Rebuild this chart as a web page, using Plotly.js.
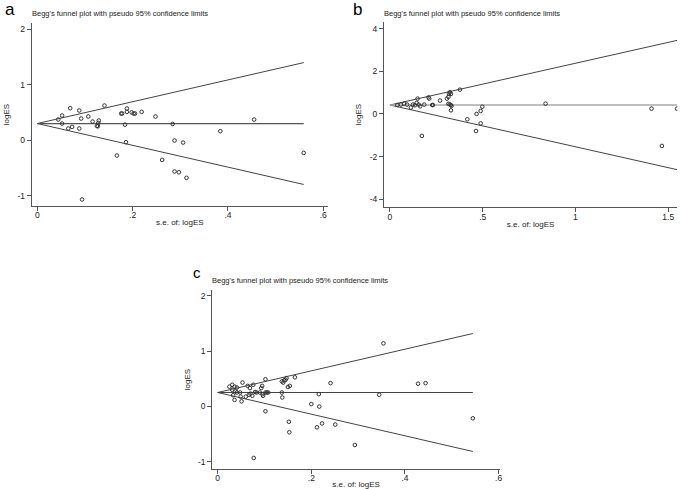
<!DOCTYPE html>
<html>
<head>
<meta charset="utf-8">
<script src="https://cdn.plot.ly/plotly-3.0.1.min.js"></script>
<style>html,body{margin:0;padding:0;background:#fff;}#chart{width:685px;height:489px;}</style>
</head>
<body>
<div id="chart"></div>
<script>
// Panel a
const seA = [0.044,0.052,0.052,0.069,0.065,0.073,0.088,0.092,0.088,0.094,0.107,0.116,0.125,0.129,0.128,0.127,0.141,0.176,0.178,0.188,0.188,0.184,0.186,0.167,0.198,0.202,0.205,0.219,0.248,0.262,0.284,0.288,0.288,0.297,0.306,0.313,0.384,0.455,0.559];
const esA = [0.372,0.444,0.30,0.576,0.21,0.24,0.534,0.39,0.21,-1.066,0.426,0.336,0.257,0.354,0.31,0.25,0.624,0.48,0.48,0.57,0.51,0.28,-0.036,-0.275,0.50,0.48,0.48,0.51,0.426,-0.354,0.293,-0.005,-0.563,-0.576,-0.042,-0.677,0.162,0.371,-0.228];
// Panel b
const seB = [0.040,0.059,0.077,0.092,0.113,0.124,0.135,0.144,0.149,0.155,0.163,0.172,0.185,0.208,0.212,0.228,0.232,0.27,0.307,0.315,0.318,0.323,0.329,0.315,0.322,0.328,0.332,0.329,0.377,0.417,0.464,0.467,0.489,0.489,0.498,0.839,1.41,1.466,1.548];
const esB = [0.42,0.44,0.48,0.44,0.30,0.44,0.41,0.52,0.72,0.44,0.36,-1.03,0.44,0.78,0.72,0.42,0.42,0.63,0.72,0.80,0.95,1.02,0.94,0.48,0.45,0.42,0.38,0.17,1.14,-0.25,-0.80,0.0,0.14,-0.44,0.34,0.485,0.25,-1.50,0.25];
// Panel c
const seC = [0.025,0.031,0.031,0.036,0.036,0.033,0.038,0.041,0.041,0.048,0.051,0.053,0.049,0.06,0.067,0.064,0.069,0.07,0.074,0.076,0.08,0.083,0.09,0.093,0.095,0.096,0.097,0.102,0.102,0.105,0.108,0.102,0.077,0.137,0.14,0.142,0.145,0.147,0.137,0.138,0.15,0.154,0.165,0.152,0.153,0.2,0.216,0.217,0.212,0.223,0.241,0.251,0.293,0.345,0.354,0.428,0.444,0.545];
const esC = [0.356,0.39,0.30,0.356,0.115,0.20,0.27,0.25,0.34,0.25,0.09,0.43,0.175,0.175,0.21,0.37,0.33,0.23,0.19,0.39,0.26,0.25,0.25,0.33,0.37,0.22,0.19,0.49,0.25,0.25,0.25,-0.09,-0.935,0.45,0.43,0.47,0.48,0.51,0.25,0.16,0.35,0.37,0.525,-0.28,-0.47,0.04,0.22,-0.005,-0.38,-0.31,0.42,-0.33,-0.70,0.21,1.14,0.41,0.42,-0.217];
// pooled estimates
const pooled = {a: 0.30, b: 0.42, c: 0.25};
const panelLabels = ['a','b','c'];
const plotTitle = "Begg's funnel plot with pseudo 95% confidence limits";
const xTitle = 's.e. of: logES';
const yTitle = 'logES';
const xTicksAC = [0,0.2,0.4,0.6], xTickTextAC = ['0','.2','.4','.6'];
const xTicksB = [0,0.5,1,1.5], xTickTextB = ['0','.5','1','1.5'];
const yTicksAC = [-1,0,1,2], yTickTextAC = ['-1','0','1','2'];
const yTicksB = [-4,-2,0,2,4], yTickTextB = ['-4','-2','0','2','4'];

const FONT = 'Liberation Sans, Arial, sans-serif';
const traces = [];
function addPanel(se, es, p, xa, ya, midColor, midWidth) {
  const maxSe = Math.max.apply(null, se);
  const xs = [0, maxSe];
  traces.push({x: xs, y: xs.map(s => p + 1.96*s), mode:'lines', line:{color:'#444', width:1}, xaxis:xa, yaxis:ya, hoverinfo:'skip'});
  traces.push({x: xs, y: xs.map(s => p - 1.96*s), mode:'lines', line:{color:'#444', width:1}, xaxis:xa, yaxis:ya, hoverinfo:'skip'});
  traces.push({x: xs, y: [p, p], mode:'lines', line:{color:midColor, width:midWidth}, xaxis:xa, yaxis:ya, hoverinfo:'skip'});
  traces.push({x: se, y: es, mode:'markers', marker:{symbol:'circle-open', size:3.6, color:'#333', line:{width:1, color:'#333'}}, xaxis:xa, yaxis:ya});
}
addPanel(seA, esA, pooled.a, 'x', 'y', '#555', 1.2);
addPanel(seB, esB, pooled.b, 'x2', 'y2', '#aaa', 1.6);
addPanel(seC, esC, pooled.c, 'x3', 'y3', '#444', 1.2);

function xax(domain, range, tv, tt, anchor) {
  return {domain, range, tickvals: tv, ticktext: tt, anchor, showgrid:false, zeroline:false,
    showline:true, linecolor:'#555', linewidth:1, ticks:'outside', ticklen:4, tickcolor:'#555',
    ticklabelstandoff:-3,
    tickfont:{family:FONT, size:8.5, color:'#222'},
    title:{text:xTitle, font:{family:FONT, size:8, color:'#222'}, standoff:0}, automargin:false};
}
function yax(domain, range, tv, tt, anchor) {
  return {domain, range, tickvals: tv, ticktext: tt, anchor, showgrid:false, zeroline:false,
    showline:true, linecolor:'#555', linewidth:1, ticks:'outside', ticklen:4, tickcolor:'#555',
    tickfont:{family:FONT, size:8.5, color:'#222'},
    title:{text:yTitle, font:{family:FONT, size:8, color:'#222'}, standoff:6}, automargin:false};
}
const W = 685, H = 489;
const layout = {
  width: W, height: H, margin:{l:0,r:0,t:0,b:0}, showlegend:false,
  paper_bgcolor:'#fff', plot_bgcolor:'#fff',
  xaxis:  xax([31.7/W, 328/W], [-0.0118, 0.61], xTicksAC, xTickTextAC, 'y'),
  yaxis:  yax([1-206/H, 1-23/H], [-1.183, 2.108], yTicksAC, yTickTextAC, 'x'),
  xaxis2: xax([384/W, 677.3/W], [-0.032, 1.549], xTicksB, xTickTextB, 'y2'),
  yaxis2: yax([1-207.3/H, 1-21.7/H], [-4.38, 4.33], yTicksB, yTickTextB, 'x2'),
  xaxis3: xax([212.3/W, 500/W], [-0.0115, 0.603], xTicksAC, xTickTextAC, 'y3'),
  yaxis3: yax([1-469/H, 1-290/H], [-1.135, 2.106], yTicksAC, yTickTextAC, 'x3'),
  annotations: [
    {text:panelLabels[0], x:3/W, y:1-10/H, xref:'paper', yref:'paper', xanchor:'left', yanchor:'middle', showarrow:false, font:{family:FONT, size:17, color:'#000'}},
    {text:panelLabels[1], x:351/W, y:1-10/H, xref:'paper', yref:'paper', xanchor:'left', yanchor:'middle', showarrow:false, font:{family:FONT, size:17, color:'#000'}},
    {text:panelLabels[2], x:191/W, y:1-272/H, xref:'paper', yref:'paper', xanchor:'left', yanchor:'middle', showarrow:false, font:{family:FONT, size:15, color:'#000'}},
    {text:plotTitle, x:30/W, y:1-13.5/H, xref:'paper', yref:'paper', xanchor:'left', yanchor:'middle', showarrow:false, font:{family:FONT, size:7.5, color:'#222'}},
    {text:plotTitle, x:382/W, y:1-13.5/H, xref:'paper', yref:'paper', xanchor:'left', yanchor:'middle', showarrow:false, font:{family:FONT, size:7.5, color:'#222'}},
    {text:plotTitle, x:210/W, y:1-280/H, xref:'paper', yref:'paper', xanchor:'left', yanchor:'middle', showarrow:false, font:{family:FONT, size:7.5, color:'#222'}}
  ]
};
Plotly.newPlot('chart', traces, layout, {displayModeBar:false, staticPlot:true});
</script>
</body>
</html>
